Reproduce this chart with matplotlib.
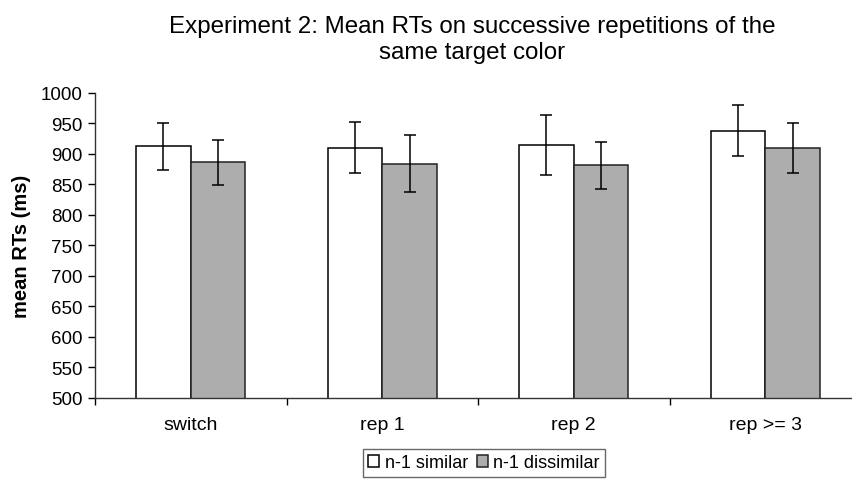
import numpy as np
import matplotlib
matplotlib.use('Agg')
import matplotlib.pyplot as plt

plt.rcParams['font.family'] = ['Liberation Sans', 'DejaVu Sans']

categories = ['switch', 'rep 1', 'rep 2', 'rep >= 3']
similar = [912, 910, 915, 938]
similar_err = [39, 42, 49, 42]
dissimilar = [886, 884, 881, 910]
dissimilar_err = [37, 46, 39, 41]
yticks = list(range(500, 1001, 50))

fig = plt.figure(figsize=(8.53, 4.85), dpi=100)
ax = fig.add_axes([95 / 853, 1 - 399 / 485, 766 / 853, (399 - 93.7) / 485])

x = np.arange(len(categories))
w = 0.285
ax.bar(x - w / 2, similar, w, color='white', edgecolor='black', linewidth=1.1,
       label='n-1 similar', zorder=2)
ax.bar(x + w / 2, dissimilar, w, color='#adadad', edgecolor='#222222', linewidth=1.1,
       label='n-1 dissimilar', zorder=2)
ax.errorbar(x - w / 2, similar, yerr=similar_err, fmt='none', ecolor='black',
            elinewidth=1.1, capsize=4.5, capthick=1.1, zorder=3)
ax.errorbar(x + w / 2, dissimilar, yerr=dissimilar_err, fmt='none', ecolor='black',
            elinewidth=1.1, capsize=4.5, capthick=1.1, zorder=3)

ax.set_xlim(-0.5, 3.5)
ax.set_ylim(500, 1000)
ax.set_yticks(yticks)
ax.set_xticks(x)
ax.set_xticklabels(categories)
ax.set_xticks(np.arange(-0.5, 4.0, 1.0), minor=True)
ax.tick_params(axis='x', which='major', length=0, pad=13, labelsize=14)
ax.tick_params(axis='x', which='minor', length=5, width=1, direction='out')
ax.tick_params(axis='y', length=5, width=1, direction='out', pad=4, labelsize=13.5)

for s in ['top', 'right']:
    ax.spines[s].set_visible(False)
for s in ['left', 'bottom']:
    ax.spines[s].set_linewidth(1)
    ax.spines[s].set_color('#333333')

ax.set_ylabel('mean RTs (ms)', fontsize=14.5, fontweight='bold', labelpad=7)

fig.text(472 / 853, 1 - 40 / 485,
         'Experiment 2: Mean RTs on successive repetitions of the\nsame target color',
         ha='center', va='center', fontsize=17.4, linespacing=1.2)

leg = fig.legend(loc='center', bbox_to_anchor=(484 / 853, 1 - 464 / 485), ncol=2,
                 fontsize=13, frameon=True, fancybox=False, edgecolor='#444444',
                 handlelength=0.6, handleheight=0.6, handletextpad=0.3,
                 columnspacing=0.5, borderpad=0.3, borderaxespad=0)
leg.get_frame().set_linewidth(1)

fig.savefig('out.png', dpi=100)
